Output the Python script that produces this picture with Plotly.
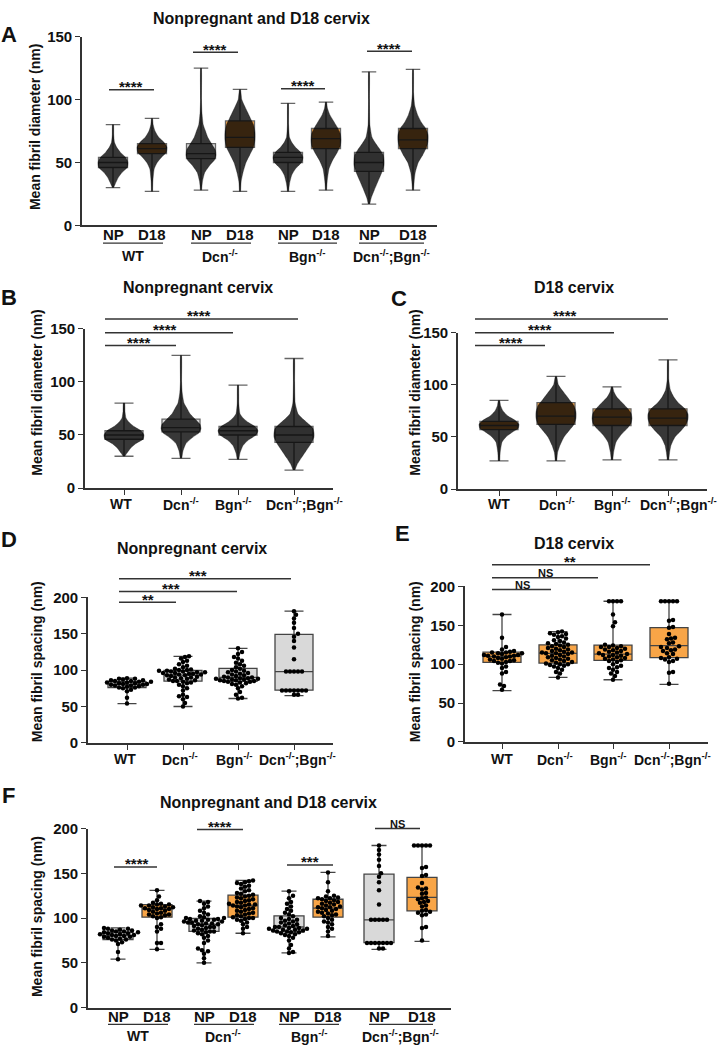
import plotly.graph_objects as go

W, H = 721, 1050
FONT = "Liberation Sans, Arial, sans-serif"
GRAY = "#D9D9D9"
ORANGE = "#F8A547"
AX = "#333333"

# ---------------- data ----------------
GROUPS = ["WT", "Dcn<sup>-/-</sup>", "Bgn<sup>-/-</sup>", "Dcn<sup>-/-</sup>;Bgn<sup>-/-</sup>"]
STAGES = ["NP", "D18"]

# fibril diameter (nm): order WT NP, WT D18, Dcn NP, Dcn D18, Bgn NP, Bgn D18, DB NP, DB D18
DIAM_MIN = [30, 27, 28, 27, 27, 28, 17, 28]
DIAM_Q1 = [46, 57, 53, 62, 50, 61, 43, 61]
DIAM_MED = [50, 61, 57, 70, 54, 69, 50, 68]
DIAM_Q3 = [54, 65, 65, 83, 58, 77, 58, 77]
DIAM_MAX = [80, 85, 125, 108, 97, 98, 122, 124]

# swarm density outline read from the dense dot clouds (value, relative width)
DIAM_PROFILE_Y = [
    [30, 33, 38, 42, 46, 50, 54, 58, 62, 66, 72, 80],
    [27, 35, 45, 50, 55, 58, 62, 66, 70, 75, 80, 85],
    [28, 35, 42, 48, 52, 56, 60, 65, 70, 75, 80, 90, 100, 125],
    [27, 35, 42, 50, 56, 62, 68, 74, 80, 85, 90, 95, 100, 108],
    [27, 33, 40, 45, 50, 54, 58, 62, 66, 70, 80, 97],
    [28, 35, 45, 52, 58, 63, 68, 73, 78, 83, 88, 93, 98],
    [17, 22, 28, 35, 42, 48, 52, 56, 60, 65, 70, 80, 100, 122],
    [28, 35, 42, 50, 56, 62, 67, 72, 77, 82, 88, 95, 105, 124],
]
DIAM_PROFILE_W = [
    [0.04, 0.15, 0.35, 0.6, 0.95, 1.0, 0.85, 0.5, 0.25, 0.1, 0.05, 0.03],
    [0.04, 0.06, 0.15, 0.35, 0.7, 0.95, 1.0, 0.8, 0.45, 0.2, 0.08, 0.03],
    [0.04, 0.1, 0.25, 0.6, 0.9, 1.0, 0.95, 0.7, 0.45, 0.3, 0.15, 0.06, 0.03, 0.02],
    [0.04, 0.08, 0.2, 0.4, 0.65, 0.9, 1.0, 1.0, 0.9, 0.7, 0.5, 0.3, 0.12, 0.03],
    [0.04, 0.1, 0.25, 0.5, 0.9, 1.0, 0.85, 0.5, 0.25, 0.1, 0.04, 0.02],
    [0.04, 0.08, 0.2, 0.45, 0.75, 0.95, 1.0, 0.95, 0.75, 0.5, 0.25, 0.1, 0.03],
    [0.05, 0.15, 0.35, 0.6, 0.85, 1.0, 1.0, 0.95, 0.75, 0.45, 0.2, 0.06, 0.03, 0.02],
    [0.04, 0.08, 0.15, 0.35, 0.65, 0.9, 1.0, 1.0, 0.85, 0.55, 0.3, 0.12, 0.04, 0.02],
]

# fibril spacing (nm)
SP_NP_WT = [89, 88, 88, 87, 86, 86, 85, 85, 84, 84, 83, 83, 82, 82, 81, 81, 80, 80, 79, 79, 78, 77, 76, 76, 75, 73, 71, 62, 54]
SP_NP_DCN = [119, 118, 116, 113, 111, 108, 106, 104, 102, 101, 100, 100, 99, 99, 98, 98, 97, 97, 96, 96, 95, 95, 94, 94, 93, 93,
             92, 91, 90, 90, 89, 88, 87, 86, 85, 85, 84, 83, 82, 80, 78, 75, 72, 66, 64, 63, 60, 55, 50]
SP_NP_BGN = [130, 125, 122, 118, 116, 113, 110, 108, 106, 104, 102, 100, 99, 98, 97, 96, 95, 94, 93, 92, 91, 90, 90, 89, 89,
             88, 88, 87, 87, 86, 86, 85, 85, 84, 84, 83, 82, 81, 80, 78, 75, 70, 66, 62, 61]
SP_NP_DB = [181, 176, 171, 165, 158, 150, 146, 140, 131, 115, 98, 98, 98, 98, 98, 72, 72, 72, 72, 72, 72, 72, 66, 66]

SP_D18_WT_E = [164, 134, 122, 119, 117, 116, 115, 115, 114, 114, 113, 112, 112, 111, 111, 110, 110, 109, 108, 107, 106, 105,
               104, 104, 103, 102, 101, 97, 95, 90, 88, 74, 72, 67]
SP_D18_WT_F = [131, 124, 120, 117, 116, 115, 115, 114, 114, 113, 112, 112, 111, 111, 110, 110, 109, 108, 107, 106, 105, 104,
               104, 103, 102, 101, 100, 93, 90, 88, 85, 72, 72, 65]
SP_D18_DCN = [142, 141, 140, 139, 138, 136, 135, 133, 131, 130, 128, 127, 126, 125, 124, 123, 122, 121, 120, 119, 118, 117,
              116, 115, 115, 114, 114, 113, 112, 111, 110, 109, 108, 107, 106, 105, 104, 103, 102, 101, 100, 100, 99, 98, 97,
              95, 93, 90, 88, 83]
SP_D18_BGN_E = [181, 181, 181, 181, 164, 154, 149, 125, 124, 123, 122, 122, 121, 120, 119, 118, 117, 116, 115, 114, 113, 112,
                112, 111, 110, 109, 108, 107, 106, 105, 104, 103, 100, 98, 96, 95, 93, 90, 88, 85, 80]
SP_D18_BGN_F = [151, 140, 130, 125, 124, 123, 122, 122, 121, 120, 119, 118, 117, 116, 115, 114, 113, 112, 112, 111, 110, 109,
                108, 107, 106, 105, 104, 103, 102, 100, 98, 96, 95, 93, 90, 88, 85, 80]
SP_D18_DB = [181, 181, 181, 181, 181, 157, 156, 148, 147, 139, 134, 133, 132, 128, 127, 123, 122, 121, 119, 118, 117, 114,
             113, 109, 108, 107, 106, 104, 103, 90, 89, 75]

# box statistics (q1, median, q3, min, max)
SP_NP_STATS = [(76, 80.5, 84, 54, 89), (85, 93, 99.5, 50, 119), (84.5, 90, 102.5, 61, 130), (72.5, 98, 149, 65, 181)]
SP_D18_STATS_E = [(102.5, 110, 115.5, 66, 164), (101.5, 114, 125, 83, 142), (105, 113, 124.5, 80, 181), (108.5, 124, 147, 74, 181)]
SP_D18_STATS_F = [(101, 110, 115, 65, 131), (101, 114, 125.5, 83, 142), (101, 111, 121, 79, 151), (108, 123, 145.5, 74, 181)]

# significance labels: panel bars as (x0, x1, y, label x, label) in page pixels
SIG = [
    (109, 154, 82, 131, "****"), (193, 238, 44, 215, "****"), (281, 325, 81, 303, "****"), (367, 412, 43, 389, "****"),
    (105, 176, 342, 139, "****"), (105, 233, 329, 165, "****"), (105, 298, 315, 199, "****"),
    (475, 545, 342, 511, "****"), (475, 614, 329, 540, "****"), (475, 668, 315, 565, "****"),
    (119, 176, 603, 148, "**"), (119, 237, 592, 171, "***"), (119, 291, 579, 198, "***"),
    (492, 551, 590, 522, "NS"), (492, 598, 578, 545, "NS"), (492, 650, 565, 570, "**"),
    (114, 157, 872, 137, "****"), (197, 243, 834, 220, "****"), (287, 333, 870, 310, "***"), (375, 420, 833, 397, "NS"),
]


# ---------------- layout helpers ----------------
def pxx(x):
    return x / W


def pxy(y):
    return 1 - y / H


PANEL = {
    "A": dict(x0=82, x1=437, yb=220, yt=28, ymax=150, pos=[113, 152, 201, 240, 288, 326, 369, 413]),
    "B": dict(x0=85, x1=333, yb=487, yt=325, ymax=150, pos=[124, 181, 238, 294], lab=[121, 181, 233, 304], ylab=503),
    "C": dict(x0=458, x1=707, yb=488, yt=329, ymax=150, pos=[499, 556, 612, 668], lab=[499, 557, 612, 678], ylab=503),
    "D": dict(x0=88, x1=333, yb=746, yt=598, ymax=200, pos=[127, 183, 238, 294], lab=[125, 180, 234, 297], ylab=762),
    "E": dict(x0=465, x1=708, yb=745, yt=587, ymax=200, pos=[502, 558, 613, 669], lab=[502, 555, 608, 672], ylab=762),
    "F": dict(x0=88, x1=451, yb=1015, yt=833, ymax=200, pos=[118, 157, 204, 243, 289, 328, 379, 422]),
}
ORDER = ["A", "B", "C", "D", "E", "F"]

fig = go.Figure()
layout = dict(width=W, height=H, margin=dict(l=0, r=0, t=0, b=0), paper_bgcolor="white",
              plot_bgcolor="white", showlegend=False, font=dict(family=FONT, color="#111"))
shapes, annotations = [], []

for i, key in enumerate(ORDER):
    p = PANEL[key]
    n = "" if i == 0 else str(i + 1)
    paired = key in ("A", "F")
    layout["xaxis" + n] = dict(domain=[pxx(p["x0"]), pxx(p["x1"])], range=[p["x0"], p["x1"]], anchor="y" + n,
                               showline=True, linecolor=AX, linewidth=1.6, showgrid=False, zeroline=False,
                               tickvals=p["pos"], showticklabels=False, ticks="" if paired else "outside",
                               ticklen=5, tickcolor=AX, tickwidth=1.4, fixedrange=True)
    layout["yaxis" + n] = dict(domain=[pxy(p["yb"]), pxy(p["yt"])], range=[0, p["ymax"]], anchor="x" + n,
                               showline=True, linecolor=AX, linewidth=1.6, showgrid=False, zeroline=False,
                               tickvals=list(range(0, p["ymax"] + 1, 50)), ticks="outside", ticklen=5,
                               tickcolor=AX, tickwidth=1.4,
                               tickfont=dict(family=FONT, size=15, color="#111", weight="bold"), fixedrange=True)


def ax(key):
    i = ORDER.index(key)
    n = "" if i == 0 else str(i + 1)
    return "x" + n, "y" + n


def add_box(key, pos, stats, fill, width, line_color):
    xa, ya = ax(key)
    q1, med, q3, lo, hi = stats
    fig.add_trace(go.Box(x=[pos], q1=[q1], median=[med], q3=[q3], lowerfence=[lo], upperfence=[hi],
                         width=width, whiskerwidth=0.5, fillcolor=fill, boxpoints=False,
                         line=dict(color=line_color, width=1.3), xaxis=xa, yaxis=ya, hoverinfo="skip"))


def add_swarm_cloud(key, pos, ys, ws, half):
    xa, ya = ax(key)
    xs = [pos + w * half for w in ws] + [pos - w * half for w in reversed(ws)]
    yy = list(ys) + list(reversed(ys))
    fig.add_trace(go.Scatter(x=xs, y=yy, mode="lines", fill="toself", fillcolor="rgba(0,0,0,0.78)",
                             line=dict(width=0.5, color="rgba(0,0,0,0.6)", shape="spline", smoothing=0.5),
                             xaxis=xa, yaxis=ya, hoverinfo="skip"))


def beeswarm(values, center, ppu, d=4.0):
    order = sorted(range(len(values)), key=lambda k: values[k])
    placed = []
    xs = [0.0] * len(values)
    cands = [0.0]
    for j in range(1, 60):
        cands += [j * d / 2, -j * d / 2]
    for k in order:
        vy = values[k] * ppu
        for c in cands:
            ok = True
            for (px_, py_) in placed:
                if (px_ - c) ** 2 + (py_ - vy) ** 2 < d ** 2:
                    ok = False
                    break
            if ok:
                placed.append((c, vy))
                xs[k] = center + c
                break
    return xs


def add_points(key, pos, values):
    xa, ya = ax(key)
    p = PANEL[key]
    ppu = (p["yb"] - p["yt"]) / p["ymax"]
    xs = beeswarm(values, pos, ppu)
    fig.add_trace(go.Scatter(x=xs, y=values, mode="markers", marker=dict(size=4.5, color="black"),
                             cliponaxis=False, xaxis=xa, yaxis=ya, hoverinfo="skip"))


# ---- Panel A (diameter, paired) ----
for g in range(8):
    pos = PANEL["A"]["pos"][g]
    fill = GRAY if g % 2 == 0 else ORANGE
    add_box("A", pos, (DIAM_Q1[g], DIAM_MED[g], DIAM_Q3[g], DIAM_MIN[g], DIAM_MAX[g]), fill, 29, "#666")
    add_swarm_cloud("A", pos, DIAM_PROFILE_Y[g], DIAM_PROFILE_W[g], 15)

# ---- Panels B, C (diameter by genotype) ----
for g in range(4):
    for key, idx, fill in (("B", 2 * g, GRAY), ("C", 2 * g + 1, ORANGE)):
        pos = PANEL[key]["pos"][g]
        add_box(key, pos, (DIAM_Q1[idx], DIAM_MED[idx], DIAM_Q3[idx], DIAM_MIN[idx], DIAM_MAX[idx]), fill, 38, "#666")
        add_swarm_cloud(key, pos, DIAM_PROFILE_Y[idx], DIAM_PROFILE_W[idx], 20)

# ---- Panels D, E, F (spacing) ----
NP_SETS = [SP_NP_WT, SP_NP_DCN, SP_NP_BGN, SP_NP_DB]
D18_E = [SP_D18_WT_E, SP_D18_DCN, SP_D18_BGN_E, SP_D18_DB]
D18_F = [SP_D18_WT_F, SP_D18_DCN, SP_D18_BGN_F, SP_D18_DB]
for g in range(4):
    add_box("D", PANEL["D"]["pos"][g], SP_NP_STATS[g], GRAY, 38, "#444")
    add_points("D", PANEL["D"]["pos"][g], NP_SETS[g])
    add_box("E", PANEL["E"]["pos"][g], SP_D18_STATS_E[g], ORANGE, 38, "#444")
    add_points("E", PANEL["E"]["pos"][g], D18_E[g])
    add_box("F", PANEL["F"]["pos"][2 * g], SP_NP_STATS[g], GRAY, 30, "#444")
    add_points("F", PANEL["F"]["pos"][2 * g], NP_SETS[g])
    add_box("F", PANEL["F"]["pos"][2 * g + 1], SP_D18_STATS_F[g], ORANGE, 30, "#444")
    add_points("F", PANEL["F"]["pos"][2 * g + 1], D18_F[g])


# ---------------- decorations ----------------
def line(x0, x1, y, w=1.5):
    shapes.append(dict(type="line", xref="paper", yref="paper", x0=pxx(x0), x1=pxx(x1), y0=pxy(y), y1=pxy(y),
                       line=dict(color=AX, width=w)))


def text(x, y, s, size, angle=0, anchor="center"):
    annotations.append(dict(xref="paper", yref="paper", x=pxx(x), y=pxy(y), text=s, showarrow=False,
                            xanchor=anchor, yanchor="middle", textangle=angle,
                            font=dict(family=FONT, size=size, color="#111", weight="bold")))


# titles
text(261, 10, "Nonpregnant and D18 cervix", 16)
text(198, 283, "Nonpregnant cervix", 16)
text(574, 283, "D18 cervix", 16)
text(192, 548, "Nonpregnant cervix", 16)
text(574, 543, "D18 cervix", 16)
text(268, 807, "Nonpregnant and D18 cervix", 16)
# panel letters
for s, x, y in (("A", 9, 26), ("B", 9, 293), ("C", 399, 294), ("D", 9, 539), ("E", 402, 533), ("F", 8, 799)):
    text(x, y, s, 22)
# axis titles
text(35, 120, "Mean fibril diameter (nm)", 14, -90)
text(37, 390, "Mean fibril diameter (nm)", 14, -90)
text(415, 390, "Mean fibril diameter (nm)", 14, -90)
text(37, 664, "Mean fibril spacing (nm)", 14, -90)
text(415, 664, "Mean fibril spacing (nm)", 14, -90)
text(37, 923, "Mean fibril spacing (nm)", 14, -90)

# genotype labels under the unpaired axes
for key in ("B", "C", "D", "E"):
    p = PANEL[key]
    for g in range(4):
        text(p["lab"][g], p["ylab"], GROUPS[g], 14)

# stage labels, underlines and group labels under the paired axes
for key, ystage, yline, ylab in (("A", 229, 238, 249), ("F", 1024, 1032, 1042)):
    pos = PANEL[key]["pos"]
    for g in range(4):
        text(pos[2 * g], ystage, STAGES[0], 15)
        text(pos[2 * g + 1], ystage, STAGES[1], 15)
        line(pos[2 * g] - 10, pos[2 * g + 1] + 11, yline, 1.2)
        text((pos[2 * g] + pos[2 * g + 1]) / 2, ylab + 2, GROUPS[g], 14)

for x0, x1, y, xt, s in SIG:
    line(x0, x1, y, 1.5)
    if s == "NS":
        text(xt, y - 5, s, 11)
    else:
        text(xt, y - 3, s, 15)

layout["shapes"] = shapes
layout["annotations"] = annotations
fig.update_layout(**layout)
fig.write_html("out.html", config={"displayModeBar": False},
               post_script="document.body.style.margin='0';document.body.style.overflow='hidden';")
